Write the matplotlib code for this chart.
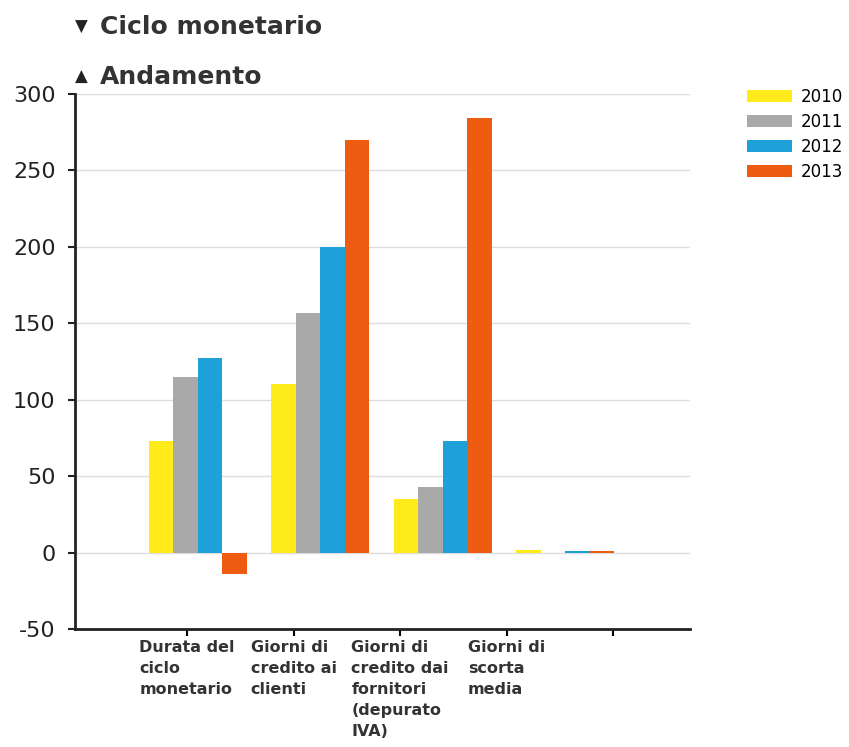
import matplotlib.pyplot as plt
import numpy as np

plt.rcParams["axes.unicode_minus"] = False

categorie = ["Durata del\nciclo\nmonetario", "Giorni di\ncredito ai\nclienti",
             "Giorni di\ncredito dai\nfornitori\n(depurato\nIVA)", "Giorni di\nscorta\nmedia"]
anni = ["2010", "2011", "2012", "2013"]
v2010 = [73, 110, 35, 2]
v2011 = [115, 157, 43, 0]
v2012 = [127, 200, 73, 1]
v2013 = [-14, 270, 284, 1]
colori = ["#ffeb1a", "#a9a9a9", "#1ea1d8", "#ee5c12"]

serie = [v2010, v2011, v2012, v2013]

fig = plt.figure(figsize=(8.49, 7.47), dpi=100)
ax = fig.add_axes([75 / 849, 1 - 629 / 747, 615 / 849, 535 / 747])

x = np.arange(len(categorie))
w = 0.2
for i, (vals, col, anno) in enumerate(zip(serie, colori, anni)):
    ax.bar(x + (i - 1.5) * w, vals, w, color=col, label=anno, zorder=3)

ax.set_xlim(-1.0, 4.02)
ax.set_ylim(-50, 300)
ax.set_yticks(np.arange(-50, 301, 50))
ax.grid(axis="y", color="#dddddd", linewidth=1, zorder=0)
ax.tick_params(axis="y", labelsize=16, length=5, width=1.5, pad=9,
               colors="#222222")

# tick marks sit between the groups, labels hang under them
tick_pos = -0.086 + 0.87 * np.arange(5)
ax.set_xticks(tick_pos)
ax.set_xticklabels(categorie + [""], fontsize=11.5, fontweight="bold",
                   color="#333333", linespacing=1.5)
for lab in ax.get_xticklabels():
    lab.set_multialignment("left")
ax.tick_params(axis="x", length=5, width=1.5, pad=3)

for s in ["top", "right"]:
    ax.spines[s].set_visible(False)
for s in ["left", "bottom"]:
    ax.spines[s].set_linewidth(2)
    ax.spines[s].set_color("#222222")

fig.text(75 / 849, 1 - 27 / 747, "\u25bc", fontsize=12, color="#222222", va="center")
fig.text(100 / 849, 1 - 27 / 747, "Ciclo monetario", fontsize=18,
         fontweight="bold", color="#333333", va="center")
fig.text(75 / 849, 1 - 77 / 747, "\u25b2", fontsize=12, color="#222222", va="center")
fig.text(100 / 849, 1 - 77 / 747, "Andamento", fontsize=18,
         fontweight="bold", color="#333333", va="center")

fig.legend(loc="upper left", bbox_to_anchor=(740 / 849, 1 - 81 / 747),
           frameon=False, fontsize=12, handlelength=2.7, handleheight=0.8,
           labelspacing=0.42, handletextpad=0.55, borderaxespad=0)

fig.savefig("out.png", dpi=100)
